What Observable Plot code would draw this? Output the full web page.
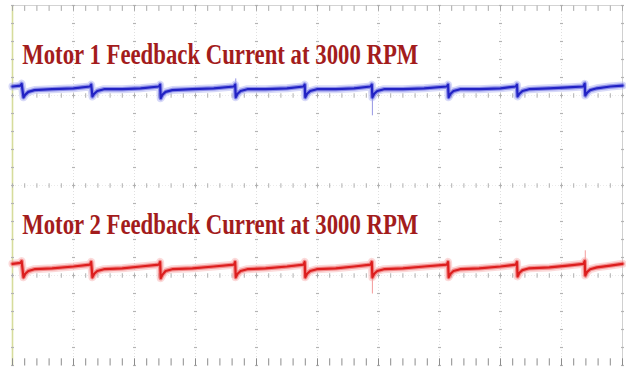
<!DOCTYPE html>
<html>
<head>
<meta charset="utf-8">
<script src="https://cdn.jsdelivr.net/npm/d3@7"></script>
<script src="https://cdn.jsdelivr.net/npm/@observablehq/plot@0.6"></script>
<style>
  html, body { margin: 0; padding: 0; background: #ffffff; }
  #chart svg { display: block; }
</style>
</head>
<body>
<div id="chart"></div>
<script>
// ---- Data (time in divisions, current trace in mV, 100 mV/div) ----
const titles = ["Motor 1 Feedback Current at 3000 RPM", "Motor 2 Feedback Current at 3000 RPM"];

const ch1T = [0.00,0.13,0.15,0.18,0.21,0.26,0.36,0.65,1.00,1.27,1.29,1.31,1.34,1.39,1.50,1.80,2.10,2.40,2.42,2.43,2.46,2.51,2.62,2.95,3.30,3.63,3.65,3.66,3.69,3.74,3.85,4.15,4.50,4.77,4.79,4.80,4.83,4.88,4.99,5.30,5.60,5.87,5.89,5.90,5.93,5.98,6.09,6.40,6.75,7.12,7.14,7.15,7.18,7.23,7.34,7.65,8.00,8.25,8.27,8.28,8.31,8.36,8.47,8.80,9.10,9.36,9.38,9.39,9.42,9.47,9.58,9.80,10.00];
const ch1V = [110,111,113,98,101,104,106,107,108,110,112,99,102,105,107,107,108,110,112,97,101,104,106,107,108,110,112,98,102,105,107,107,108,110,112,98,102,105,107,107,108,110,112,98,102,105,107,107,108,110,112,98,102,105,107,107,108,110,112,99,102,105,107,108,109,110,113,100,103,106,108,110,111];

const ch2T = ch1T.slice();
const ch2V = [-87,-86,-84,-102,-98,-95,-93,-92,-90,-88,-85,-102,-98,-95,-93,-92,-90,-88,-85,-103,-99,-95,-93,-92,-90,-88,-85,-102,-98,-95,-93,-92,-90,-88,-85,-102,-98,-95,-93,-92,-90,-88,-85,-102,-98,-95,-93,-92,-90,-88,-85,-102,-98,-95,-93,-92,-90,-88,-85,-101,-97,-94,-92,-91,-89,-87,-84,-100,-96,-93,-91,-89,-87];

// thin glitch spikes seen on the traces
const glitch1T = [3.66, 5.90, 9.39];
const glitch1From = [119, 98, 116];
const glitch1To = [98, 78, 100];
const glitch2T = [5.90, 9.39];
const glitch2From = [-102, -72];
const glitch2To = [-120, -100];

// graticule
const majorX = [0,1,2,3,4,5,6,7,8,9,10];
const majorY = [-200,-100,0,100,200];

// ---- build tables ----
const ch1 = ch1T.map((t, i) => ({t, v: ch1V[i]}));
const ch2 = ch2T.map((t, i) => ({t, v: ch2V[i]}));
const g1 = glitch1T.map((t, i) => ({t, a: glitch1From[i], b: glitch1To[i]}));
const g2 = glitch2T.map((t, i) => ({t, a: glitch2From[i], b: glitch2To[i]}));

const minorY = d3.range(-200, 201, 20);
const minorX = d3.range(0, 10.001, 0.2).map(d => +d.toFixed(2));
const vDots = [];
for (const x of majorX) for (const y of minorY) vDots.push({x, y});
const hTicks = [];
for (const y of [-100, 0, 100]) for (const x of minorX) hTicks.push({x, y});
const edgeTicks = minorX.map(x => ({x}));

const chart = Plot.plot({
  width: 626,
  height: 369,
  marginLeft: 12,
  marginRight: 4,
  marginTop: 5,
  marginBottom: 4,
  x: {domain: [0, 10], axis: null},
  y: {domain: [-200, 200], axis: null},
  style: {background: "#ffffff", overflow: "visible"},
  marks: [
    // faint dotted graticule
    Plot.ruleX(majorX.slice(1, -1), {stroke: "#d8d8d8", strokeWidth: 0.8, strokeDasharray: "1,2"}),
    Plot.ruleY(majorY.slice(1, -1), {stroke: "#e4e4e4", strokeWidth: 0.8, strokeDasharray: "1,2"}),
    // borders
    Plot.ruleX([0], {stroke: "#d6dc9c", strokeWidth: 1.6}),
    Plot.ruleX([10], {stroke: "#d0d0d0", strokeWidth: 1}),
    Plot.ruleY([200], {stroke: "#c8c8c8", strokeWidth: 0.8}),
    // minor marks on vertical division lines
    Plot.link(vDots, {x1: d => d.x - 0.025, x2: d => d.x + 0.025, y1: "y", y2: "y", stroke: "#b4b4b4", strokeWidth: 1.2}),
    // minor ticks on horizontal division lines
    Plot.link(hTicks, {x1: "x", x2: "x", y1: d => d.y - 2.5, y2: d => d.y + 2.5, stroke: "#b0b0b0", strokeWidth: 1}),
    Plot.link(edgeTicks, {x1: "x", x2: "x", y1: 200, y2: 194, stroke: "#a8a8a8", strokeWidth: 1}),
    Plot.link(edgeTicks, {x1: "x", x2: "x", y1: -200, y2: -192, stroke: "#8c8c8c", strokeWidth: 1}),
    // Motor 1 trace (blue)
    Plot.link(g1, {x1: "t", x2: "t", y1: "a", y2: "b", stroke: "#6a6ad8", strokeWidth: 1, strokeOpacity: 0.7}),
    Plot.line(ch1, {x: "t", y: "v", stroke: "#a7aaf0", strokeWidth: 8, strokeOpacity: 0.45, curve: "linear"}),
    Plot.line(ch1, {x: "t", y: "v", stroke: "#5a5ce0", strokeWidth: 4.5, strokeOpacity: 0.6}),
    Plot.line(ch1, {x: "t", y: "v", stroke: "#2222c4", strokeWidth: 2.2}),
    // Motor 2 trace (red)
    Plot.link(g2, {x1: "t", x2: "t", y1: "a", y2: "b", stroke: "#ee7070", strokeWidth: 1, strokeOpacity: 0.7}),
    Plot.line(ch2, {x: "t", y: "v", stroke: "#f6aaaa", strokeWidth: 8, strokeOpacity: 0.45}),
    Plot.line(ch2, {x: "t", y: "v", stroke: "#ee5a5a", strokeWidth: 4.5, strokeOpacity: 0.6}),
    Plot.line(ch2, {x: "t", y: "v", stroke: "#dc1e1e", strokeWidth: 2.2}),
    // titles
    Plot.text([titles[0]], {x: 0.16, y: 146, text: d => d, textAnchor: "start", lineAnchor: "middle",
      fontFamily: "Liberation Serif", fontWeight: "bold", fontSize: 30, fill: "#a31c1c", className: "scope-title"}),
    Plot.text([titles[1]], {x: 0.16, y: -43, text: d => d, textAnchor: "start", lineAnchor: "middle",
      fontFamily: "Liberation Serif", fontWeight: "bold", fontSize: 30, fill: "#a31c1c", className: "scope-title"})
  ]
});

chart.querySelectorAll(".scope-title text").forEach(t => {
  t.setAttribute("textLength", "396");
  t.setAttribute("lengthAdjust", "spacingAndGlyphs");
});

document.getElementById("chart").appendChild(chart);
</script>
</body>
</html>
